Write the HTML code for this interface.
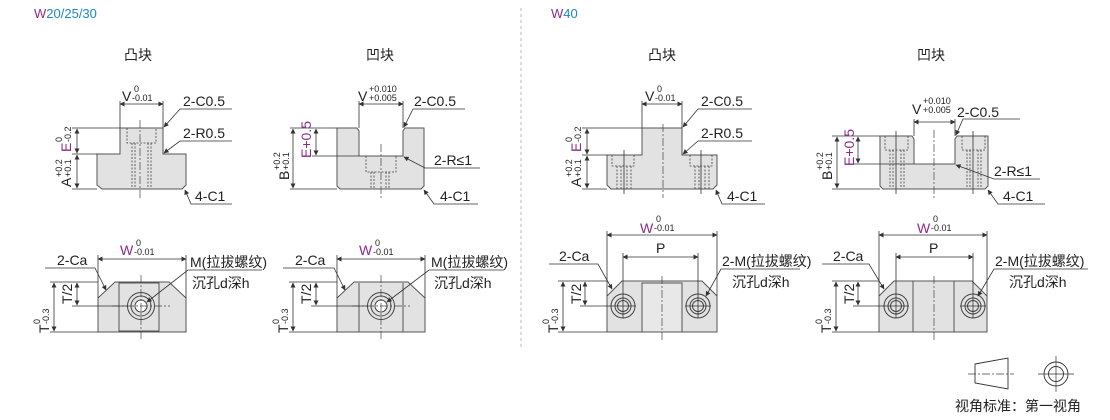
<!DOCTYPE html>
<html><head><meta charset="utf-8"><style>
html,body{margin:0;padding:0;background:#fff;}
svg{display:block;font-family:"Liberation Sans","Noto Sans CJK SC",sans-serif;}
.b{fill:#e2e2e2;stroke:#555;stroke-width:1;}
.l{stroke:#333;stroke-width:0.8;fill:none;}
.d{stroke:#444;stroke-width:0.8;fill:none;stroke-dasharray:2,1.5;}
.c{stroke:#444;stroke-width:0.7;fill:none;stroke-dasharray:8,2,2,2;}
.t{font-size:14px;fill:#222;}
.s{font-size:9px;fill:#222;}
.p{fill:#8a2c8a;}
.a{stroke:#333;stroke-width:0.8;fill:none;marker-start:url(#m);marker-end:url(#m);}
.ld{stroke:#333;stroke-width:0.8;fill:none;marker-end:url(#m2);}
</style></head><body>
<svg width="1110" height="420" viewBox="0 0 1110 420">
<defs>
<marker id="m" viewBox="0 0 10 10" refX="9" refY="5" markerUnits="userSpaceOnUse" markerWidth="8" markerHeight="5" orient="auto-start-reverse"><path d="M0,0 L10,5 L0,10z" fill="#333"/></marker>
<marker id="m2" viewBox="0 0 10 10" refX="9" refY="5" markerUnits="userSpaceOnUse" markerWidth="8" markerHeight="5" orient="auto"><path d="M0,0 L10,5 L0,10z" fill="#333"/></marker>
</defs>

<text x="34" y="18" class="t" style="font-size:13px"><tspan fill="#8a2c8a">W</tspan><tspan fill="#1a88c9">20/25/30</tspan></text>
<text x="551" y="18" class="t" style="font-size:13px"><tspan fill="#8a2c8a">W</tspan><tspan fill="#1a88c9">40</tspan></text>
<line x1="521" y1="8" x2="521" y2="350" stroke="#bbb" stroke-dasharray="3,3"/>
<text x="124" y="60" class="t">凸块</text>
<text x="366" y="60" class="t">凹块</text>
<text x="648" y="60" class="t">凸块</text>
<text x="917" y="60" class="t">凹块</text>

<!-- Panel 1 top -->
<path class="b" d="M120,128 H163 V154 H186 V185 L182,189 H102 L97,185 V154 H120Z"/>
<line class="c" x1="140" y1="120" x2="140" y2="198"/>
<path class="d" d="M127,128 V143 H156 V128"/>
<path class="d" d="M132,143V189M135,143V189M148,143V189M151,143V189"/>
<line class="l" x1="120" y1="101" x2="120" y2="128"/><line class="l" x1="163" y1="101" x2="163" y2="128"/>
<line class="a" x1="120" y1="104" x2="163" y2="104"/>
<text x="122" y="101" class="t">V</text><text x="134" y="92" class="s">0</text><text x="132" y="101" class="s">-0.01</text>
<line class="l" x1="72" y1="128" x2="120" y2="128"/><line class="l" x1="72" y1="154" x2="97" y2="154"/><line class="l" x1="72" y1="189" x2="97" y2="189"/>
<line class="a" x1="77" y1="129" x2="77" y2="153"/><line class="a" x1="77" y1="155" x2="77" y2="188"/>
<g transform="translate(71,152) rotate(-90)"><text class="t p">E</text><text x="10" y="-9" class="s">0</text><text x="10" y="0" class="s">-0.2</text></g>
<g transform="translate(71,187) rotate(-90)"><text class="t">A</text><text x="10" y="-9" class="s">+0.2</text><text x="10" y="0" class="s">+0.1</text></g>
<text x="183" y="106" class="t">2-C0.5</text><path class="ld" d="M232,109 H180 L164,127"/>
<text x="183" y="138" class="t">2-R0.5</text><path class="ld" d="M232,141 H180 L164,153"/>
<text x="195" y="201" class="t">4-C1</text><path class="ld" d="M232,204 H191 L185,190"/>

<!-- Panel 2 top -->
<path class="b" d="M337,128 H357 L359,131 V156 H403 V131 L405,128 H424 V186 L421,189 H340 L337,186Z"/>
<line class="c" x1="381" y1="144" x2="381" y2="198"/>
<path class="d" d="M366,156 V172 H396 V156"/>
<path class="d" d="M371,172V189M374,172V189M386,172V189M389,172V189"/>
<line class="l" x1="359" y1="101" x2="359" y2="128"/><line class="l" x1="403" y1="101" x2="403" y2="128"/>
<line class="a" x1="359" y1="104" x2="403" y2="104"/>
<text x="358" y="101" class="t">V</text><text x="369" y="92" class="s">+0.010</text><text x="369" y="101" class="s">+0.005</text>
<line class="l" x1="290" y1="128" x2="337" y2="128"/><line class="l" x1="312" y1="156" x2="359" y2="156"/><line class="l" x1="290" y1="189" x2="337" y2="189"/>
<line class="a" x1="293" y1="129" x2="293" y2="188"/><line class="a" x1="316" y1="129" x2="316" y2="155"/>
<g transform="translate(311,158) rotate(-90)"><text class="t p">E+0.5</text></g>
<g transform="translate(289,180) rotate(-90)"><text class="t">B</text><text x="10" y="-9" class="s">+0.2</text><text x="10" y="0" class="s">+0.1</text></g>
<text x="414" y="106" class="t">2-C0.5</text><path class="ld" d="M465,109 H413 L404,127"/>
<text x="434" y="165" class="t">2-R≤1</text><path class="ld" d="M480,168 H425 L404,157"/>
<text x="440" y="201" class="t">4-C1</text><path class="ld" d="M478,204 H434 L424,190"/>

<!-- Panel 3 top -->
<path class="b" d="M642,128 H682 V155 H717 V185 L713,189 H611 L607,185 V155 H642Z"/>
<line class="c" x1="663" y1="124" x2="663" y2="198"/>
<path class="d" d="M612,155 V166 H634 V155 M690,155 V166 H712 V155"/>
<path class="d" d="M617,166V189M621,166V189M627,166V189M631,166V189M695,166V189M699,166V189M705,166V189M709,166V189"/>
<line class="l" x1="624" y1="150" x2="624" y2="194" stroke-width="0.6"/><line class="l" x1="701" y1="150" x2="701" y2="194" stroke-width="0.6"/>
<line class="l" x1="642" y1="101" x2="642" y2="128"/><line class="l" x1="682" y1="101" x2="682" y2="128"/>
<line class="a" x1="642" y1="104" x2="682" y2="104"/>
<text x="645" y="101" class="t">V</text><text x="657" y="92" class="s">0</text><text x="655" y="101" class="s">-0.01</text>
<line class="l" x1="582" y1="128" x2="642" y2="128"/><line class="l" x1="582" y1="155" x2="607" y2="155"/><line class="l" x1="582" y1="189" x2="607" y2="189"/>
<line class="a" x1="587" y1="129" x2="587" y2="154"/><line class="a" x1="587" y1="156" x2="587" y2="188"/>
<g transform="translate(581,152) rotate(-90)"><text class="t p">E</text><text x="10" y="-9" class="s">0</text><text x="10" y="0" class="s">-0.2</text></g>
<g transform="translate(581,187) rotate(-90)"><text class="t">A</text><text x="10" y="-9" class="s">+0.2</text><text x="10" y="0" class="s">+0.1</text></g>
<text x="701" y="106" class="t">2-C0.5</text><path class="ld" d="M752,109 H698 L683,127"/>
<text x="701" y="138" class="t">2-R0.5</text><path class="ld" d="M752,141 H698 L683,154"/>
<text x="727" y="201" class="t">4-C1</text><path class="ld" d="M765,204 H722 L716,190"/>

<!-- Panel 4 top -->
<path class="b" d="M880,136 H912 L914,139 V164 H955 V139 L957,136 H988 V186 L985,189 H883 L880,186Z"/>
<line class="c" x1="934" y1="130" x2="934" y2="198"/>
<path class="d" d="M885,136 V150 H908 V136 M962,136 V150 H985 V136"/>
<path class="d" d="M890,150V189M893,150V189M901,150V189M904,150V189M967,150V189M970,150V189M978,150V189M981,150V189"/>
<line class="l" x1="896" y1="131" x2="896" y2="194" stroke-width="0.6"/><line class="l" x1="973" y1="131" x2="973" y2="194" stroke-width="0.6"/>
<line class="l" x1="914" y1="119" x2="914" y2="136"/><line class="l" x1="955" y1="119" x2="955" y2="136"/>
<line class="a" x1="914" y1="122" x2="955" y2="122"/>
<text x="912" y="114" class="t">V</text><text x="923" y="104" class="s">+0.010</text><text x="923" y="113" class="s">+0.005</text>
<text x="957" y="117" class="t">2-C0.5</text><path class="ld" d="M1020,119 H963 L956,135"/>
<line class="l" x1="832" y1="136" x2="880" y2="136"/><line class="l" x1="853" y1="164" x2="914" y2="164"/><line class="l" x1="832" y1="189" x2="880" y2="189"/>
<line class="a" x1="837" y1="137" x2="837" y2="188"/><line class="a" x1="858" y1="137" x2="858" y2="163"/>
<g transform="translate(854,166) rotate(-90)"><text class="t p">E+0.5</text></g>
<g transform="translate(832,180) rotate(-90)"><text class="t">B</text><text x="10" y="-9" class="s">+0.2</text><text x="10" y="0" class="s">+0.1</text></g>
<text x="994" y="176" class="t">2-R≤1</text><path class="ld" d="M1040,179 H994 L956,165"/>
<text x="1003" y="201" class="t">4-C1</text><path class="ld" d="M1045,204 H998 L988,190"/>

<!-- Panel 1 bottom -->
<path class="b" d="M115,282 H169 L186,298 V332 H98 V298Z"/>
<rect x="119" y="283" width="40" height="48" fill="none" stroke="#555"/>
<circle cx="141" cy="306" r="13.5" fill="#e2e2e2" stroke="#444"/><circle cx="141" cy="306" r="10" fill="none" stroke="#444"/><circle cx="141" cy="306" r="6" fill="#fff" stroke="#444"/>
<line class="c" x1="112" y1="306" x2="170" y2="306"/><line class="c" x1="141" y1="275" x2="141" y2="340"/>
<line class="l" x1="98" y1="255" x2="98" y2="298"/><line class="l" x1="186" y1="255" x2="186" y2="298"/>
<line class="a" x1="98" y1="259" x2="186" y2="259"/>
<text x="120" y="255" class="t p">W</text><text x="136" y="246" class="s">0</text><text x="134" y="255" class="s">-0.01</text>
<text x="57" y="265" class="t">2-Ca</text><path class="ld" d="M45,268 H95 L106,290"/>
<text x="190" y="267" class="t">M(拉拔螺纹)</text><path class="ld" d="M262,270 H188 L147,302"/>
<text x="192" y="288" class="t">沉孔d深h</text>
<line class="l" x1="50" y1="282" x2="98" y2="282"/><line class="l" x1="72" y1="306" x2="128" y2="306"/><line class="l" x1="50" y1="332" x2="98" y2="332"/>
<line class="a" x1="54" y1="283" x2="54" y2="331"/><line class="a" x1="77" y1="283" x2="77" y2="305"/>
<g transform="translate(72,304) rotate(-90)"><text class="t">T/2</text></g>
<g transform="translate(49,333) rotate(-90)"><text class="t">T</text><text x="9" y="-9" class="s">0</text><text x="9" y="0" class="s">-0.3</text></g>

<!-- Panel 2 bottom -->
<path class="b" d="M354,282 H408 L425,298 V332 H337 V298Z"/>
<line x1="359" y1="283" x2="359" y2="332" stroke="#555"/><line x1="403" y1="283" x2="403" y2="332" stroke="#555"/>
<circle cx="381" cy="306" r="13.5" fill="#e2e2e2" stroke="#444"/><circle cx="381" cy="306" r="10" fill="none" stroke="#444"/><circle cx="381" cy="306" r="6" fill="#fff" stroke="#444"/>
<line class="c" x1="352" y1="306" x2="410" y2="306"/><line class="c" x1="381" y1="275" x2="381" y2="340"/>
<line class="l" x1="337" y1="255" x2="337" y2="298"/><line class="l" x1="425" y1="255" x2="425" y2="298"/>
<line class="a" x1="337" y1="259" x2="425" y2="259"/>
<text x="359" y="255" class="t p">W</text><text x="375" y="246" class="s">0</text><text x="373" y="255" class="s">-0.01</text>
<text x="295" y="265" class="t">2-Ca</text><path class="ld" d="M283,268 H334 L345,290"/>
<text x="431" y="267" class="t">M(拉拔螺纹)</text><path class="ld" d="M504,270 H429 L387,302"/>
<text x="434" y="288" class="t">沉孔d深h</text>
<line class="l" x1="289" y1="282" x2="337" y2="282"/><line class="l" x1="311" y1="306" x2="368" y2="306"/><line class="l" x1="289" y1="332" x2="337" y2="332"/>
<line class="a" x1="293" y1="283" x2="293" y2="331"/><line class="a" x1="316" y1="283" x2="316" y2="305"/>
<g transform="translate(311,304) rotate(-90)"><text class="t">T/2</text></g>
<g transform="translate(288,333) rotate(-90)"><text class="t">T</text><text x="9" y="-9" class="s">0</text><text x="9" y="0" class="s">-0.3</text></g>

<!-- Panel 3 bottom -->
<path class="b" d="M622,281 H702 L717,296 V332 H607 V296Z"/>
<rect x="642" y="283" width="40" height="49" fill="#e8e8e8" stroke="#555"/>
<circle cx="623" cy="306" r="12" fill="#e2e2e2" stroke="#444"/><circle cx="623" cy="306" r="8" fill="none" stroke="#444"/><circle cx="623" cy="306" r="5.5" fill="none" stroke="#444"/>
<circle cx="698" cy="306" r="12" fill="#e2e2e2" stroke="#444"/><circle cx="698" cy="306" r="8" fill="none" stroke="#444"/><circle cx="698" cy="306" r="5.5" fill="none" stroke="#444"/>
<line class="l" x1="610" y1="306" x2="636" y2="306" stroke-width="0.6"/><line class="l" x1="685" y1="306" x2="711" y2="306" stroke-width="0.6"/>
<line class="c" x1="662" y1="276" x2="662" y2="340"/>
<line class="l" x1="607" y1="231" x2="607" y2="296"/><line class="l" x1="717" y1="231" x2="717" y2="296"/>
<line class="a" x1="607" y1="235" x2="717" y2="235"/>
<text x="640" y="233" class="t p">W</text><text x="656" y="222" class="s">0</text><text x="654" y="231" class="s">-0.01</text>
<line class="l" x1="623" y1="253" x2="623" y2="318"/><line class="l" x1="698" y1="253" x2="698" y2="318"/>
<line class="a" x1="623" y1="257" x2="698" y2="257"/>
<text x="656" y="253" class="t">P</text>
<text x="559" y="261" class="t">2-Ca</text><path class="ld" d="M549,264 H598 L612,289"/>
<text x="722" y="266" class="t">2-M(拉拔螺纹)</text><path class="ld" d="M800,269 H721 L706,296"/>
<text x="732" y="287" class="t">沉孔d深h</text>
<line class="l" x1="558" y1="281" x2="607" y2="281"/><line class="l" x1="580" y1="306" x2="611" y2="306"/><line class="l" x1="558" y1="332" x2="607" y2="332"/>
<line class="a" x1="563" y1="282" x2="563" y2="331"/><line class="a" x1="585" y1="282" x2="585" y2="305"/>
<g transform="translate(581,304) rotate(-90)"><text class="t">T/2</text></g>
<g transform="translate(558,333) rotate(-90)"><text class="t">T</text><text x="9" y="-9" class="s">0</text><text x="9" y="0" class="s">-0.3</text></g>

<!-- Panel 4 bottom -->
<path class="b" d="M894,281 H972 L987,296 V332 H879 V296Z"/>
<line x1="913" y1="281" x2="913" y2="332" stroke="#555"/><line x1="954" y1="281" x2="954" y2="332" stroke="#555"/>
<circle cx="896" cy="306" r="12" fill="#e2e2e2" stroke="#444"/><circle cx="896" cy="306" r="8" fill="none" stroke="#444"/><circle cx="896" cy="306" r="5.5" fill="none" stroke="#444"/>
<circle cx="973" cy="306" r="12" fill="#e2e2e2" stroke="#444"/><circle cx="973" cy="306" r="8" fill="none" stroke="#444"/><circle cx="973" cy="306" r="5.5" fill="none" stroke="#444"/>
<line class="l" x1="883" y1="306" x2="909" y2="306" stroke-width="0.6"/><line class="l" x1="960" y1="306" x2="986" y2="306" stroke-width="0.6"/>
<line class="c" x1="934" y1="276" x2="934" y2="340"/>
<line class="l" x1="879" y1="231" x2="879" y2="296"/><line class="l" x1="987" y1="231" x2="987" y2="296"/>
<line class="a" x1="879" y1="235" x2="987" y2="235"/>
<text x="917" y="233" class="t p">W</text><text x="933" y="222" class="s">0</text><text x="931" y="231" class="s">-0.01</text>
<line class="l" x1="896" y1="253" x2="896" y2="318"/><line class="l" x1="973" y1="253" x2="973" y2="318"/>
<line class="a" x1="896" y1="257" x2="973" y2="257"/>
<text x="929" y="253" class="t">P</text>
<text x="833" y="261" class="t">2-Ca</text><path class="ld" d="M822,264 H869 L884,289"/>
<text x="995" y="266" class="t">2-M(拉拔螺纹)</text><path class="ld" d="M1088,269 H994 L978,296"/>
<text x="1009" y="287" class="t">沉孔d深h</text>
<line class="l" x1="832" y1="281" x2="879" y2="281"/><line class="l" x1="853" y1="306" x2="884" y2="306"/><line class="l" x1="832" y1="332" x2="879" y2="332"/>
<line class="a" x1="836" y1="282" x2="836" y2="331"/><line class="a" x1="858" y1="282" x2="858" y2="305"/>
<g transform="translate(854,304) rotate(-90)"><text class="t">T/2</text></g>
<g transform="translate(831,333) rotate(-90)"><text class="t">T</text><text x="9" y="-9" class="s">0</text><text x="9" y="0" class="s">-0.3</text></g>

<!-- legend -->
<path d="M975,364 L1008,358 V389 L975,383Z" fill="none" stroke="#333" stroke-width="0.9"/>
<line class="c" x1="968" y1="374" x2="1014" y2="374"/>
<circle cx="1056" cy="374" r="12" fill="none" stroke="#333" stroke-width="0.9"/>
<circle cx="1056" cy="374" r="7.5" fill="none" stroke="#333" stroke-width="0.9"/>
<line x1="1038" y1="374" x2="1074" y2="374" stroke="#333" stroke-width="0.7"/>
<line x1="1056" y1="356" x2="1056" y2="392" stroke="#333" stroke-width="0.7"/>
<text x="955" y="411" class="t">视角标准：第一视角</text>
</svg>
</body></html>
